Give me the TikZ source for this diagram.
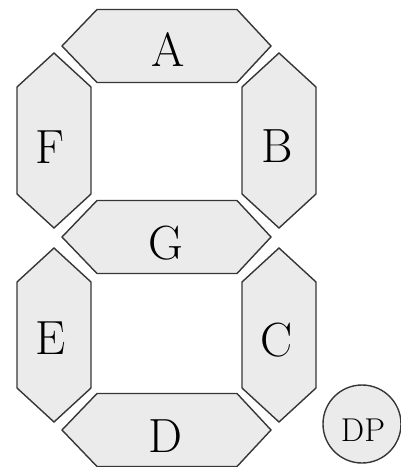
\documentclass[tikz,border=0pt]{standalone}
\usepackage{fontspec}
\setmainfont{Latin Modern Roman}
\definecolor{segfill}{HTML}{EBEBEB}
\definecolor{segline}{HTML}{363636}
\begin{document}
\begin{tikzpicture}[x=1pt,y=-1pt,
  seg/.style={fill=segfill,draw=segline,line width=1.4pt,line join=miter},
  lbl/.style={inner sep=0pt,font=\fontsize{48}{48}\selectfont},
  dplbl/.style={inner sep=0pt,font=\fontsize{33}{33}\selectfont}]
\useasboundingbox (0,0) rectangle (400,467);
% horizontal segments: A, G, D
\foreach \c in {46,237,430}{
  \draw[seg] (62,\c) -- (97,\c-36.5) -- (237,\c-36.5) -- (271,\c) -- (237,\c+36.5) -- (97,\c+36.5) -- cycle;
}
% vertical segments: F, E (left) and B, C (right)
\foreach \xl/\t/\b in {17/53/228, 17/248/422, 242/53/228, 242/248/422}{
  \draw[seg] (\xl+37,\t) -- (\xl+74,\t+34) -- (\xl+74,\b-34) -- (\xl+37,\b) -- (\xl,\b-34) -- (\xl,\t+34) -- cycle;
}
% decimal point
\draw[seg] (362,424) circle[radius=39];
% labels
\node[lbl] (A) at (168,50) {A};
\node[lbl] (F) at (50,147) {F};
\node[lbl] (B) at (277,146) {B};
\node[lbl] (G) at (166,243) {G};
\node[lbl] (E) at (51,338) {E};
\node[lbl] (C) at (277,340) {C};
\node[lbl] (D) at (165,436) {D};
\node[dplbl] (DP) at (363,430) {DP};
\end{tikzpicture}
\end{document}
